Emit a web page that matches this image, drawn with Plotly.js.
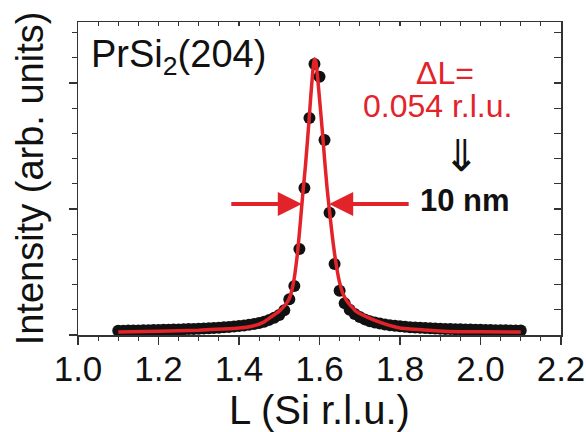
<!DOCTYPE html>
<html>
<head>
<meta charset="utf-8">
<script src="https://cdn.plot.ly/plotly-3.0.1.min.js"></script>
<style>html,body{margin:0;padding:0;background:#fff;}#chart{width:586px;height:432px;}</style>
</head>
<body>
<div id="chart"></div>
<script>
// Measured points (L in Si r.l.u., intensity in arb. units)
var dataL = [1.1,1.1125,1.125,1.1375,1.15,1.1625,1.175,1.1875,1.2,1.2125,1.225,1.2375,1.25,1.2625,1.275,1.2875,1.3,1.3125,1.325,1.3375,1.35,1.3625,1.375,1.3875,1.4,1.4125,1.425,1.4375,1.45,1.4625,1.475,1.4875,1.5,1.5125,1.525,1.5375,1.55,1.5625,1.575,1.5875,1.6,1.6125,1.625,1.6375,1.65,1.6625,1.675,1.6875,1.7,1.7125,1.725,1.7375,1.75,1.7625,1.775,1.7875,1.8,1.8125,1.825,1.8375,1.85,1.8625,1.875,1.8875,1.9,1.9125,1.925,1.9375,1.95,1.9625,1.975,1.9875,2.0,2.0125,2.025,2.0375,2.05,2.0625,2.075,2.0875,2.1];
var dataI = [0.17,0.17,0.18,0.18,0.18,0.19,0.19,0.20,0.20,0.21,0.21,0.22,0.22,0.23,0.24,0.24,0.25,0.26,0.27,0.28,0.29,0.31,0.32,0.34,0.36,0.38,0.41,0.44,0.48,0.53,0.60,0.68,0.79,0.98,1.42,1.94,3.41,5.83,8.61,10.75,10.25,7.74,4.85,2.82,1.76,1.26,1.00,0.83,0.71,0.62,0.55,0.50,0.46,0.42,0.39,0.37,0.35,0.33,0.31,0.30,0.29,0.28,0.27,0.26,0.25,0.24,0.24,0.23,0.23,0.22,0.22,0.21,0.21,0.20,0.20,0.19,0.19,0.19,0.18,0.18,0.18];
// Fit curve
var fitL = [1.10,1.20,1.30,1.36,1.40,1.43,1.46,1.48,1.50,1.515,1.525,1.535,1.545,1.552,1.558,1.565,1.572,1.578,1.583,1.587,1.591,1.596,1.601,1.607,1.613,1.619,1.625,1.632,1.640,1.649,1.658,1.668,1.69,1.717,1.76,1.80,1.86,1.92,2.0,2.1];
var fitI = [0.12,0.15,0.19,0.24,0.28,0.34,0.50,0.72,0.95,1.20,1.45,2.05,3.2,4.4,5.5,6.7,8.1,9.4,10.4,10.95,10.85,10.1,9.2,8.1,6.9,5.8,4.9,3.9,2.95,2.15,1.65,1.35,0.95,0.72,0.45,0.28,0.20,0.14,0.13,0.12];

var xRange = [1.0, 2.2];
var yRange = [0, 12.42];
var RED = '#e3232a';
var FONT = 'Liberation Sans, Arial, Helvetica, sans-serif';

var traces = [
  {x: dataL, y: dataI, type: 'scatter', mode: 'markers',
   marker: {color: '#111111', size: 12, line: {width: 0}}, hoverinfo: 'skip', xaxis: 'x', yaxis: 'y'},
  {x: fitL, y: fitI, type: 'scatter', mode: 'lines',
   line: {color: RED, width: 3.5, shape: 'spline', smoothing: 0.5}, hoverinfo: 'skip', xaxis: 'x2', yaxis: 'y2'}
];

var axCol = '#333333';
var layout = {
  width: 586, height: 432,
  margin: {l: 78, r: 25, t: 22, b: 97},
  paper_bgcolor: '#ffffff', plot_bgcolor: '#ffffff',
  showlegend: false,
  font: {family: FONT, color: '#111111'},
  xaxis: {
    range: xRange, tick0: 1.0, dtick: 0.2, tickformat: '.1f',
    ticks: 'outside', ticklen: 8, tickwidth: 1.5, tickcolor: axCol,
    minor: {dtick: 0.05, ticks: 'outside', ticklen: 4, tickwidth: 1.2, tickcolor: axCol},
    showline: true, linecolor: axCol, linewidth: 1.5, showgrid: false, zeroline: false,
    tickfont: {size: 35, family: FONT, color: '#111111'},
    ticklabelstandoff: -6,
    title: {text: 'L (Si r.l.u.)', font: {size: 40, family: FONT, color: '#111111'}, standoff: 2}
  },
  yaxis: {
    range: yRange, tick0: 0, dtick: 5, showticklabels: false,
    ticks: 'outside', ticklen: 8, tickwidth: 1.5, tickcolor: axCol,
    minor: {dtick: 1, ticks: 'outside', ticklen: 5, tickwidth: 1.2, tickcolor: axCol},
    showline: true, linecolor: axCol, linewidth: 1.5, showgrid: false, zeroline: false,
    title: {text: 'Intensity (arb. units)', font: {size: 38, family: FONT, color: '#111111'}, standoff: 13}
  },
  xaxis2: {
    overlaying: 'x', side: 'top', anchor: 'y2', range: xRange, tick0: 1.0, dtick: 0.05,
    ticks: 'inside', ticklen: 4, tickwidth: 1.2, tickcolor: axCol, showticklabels: false,
    showline: true, linecolor: axCol, linewidth: 1.5, showgrid: false, zeroline: false
  },
  yaxis2: {
    overlaying: 'y', side: 'right', anchor: 'x2', range: yRange, tick0: 0, dtick: 1,
    ticks: 'inside', ticklen: 7, tickwidth: 1.2, tickcolor: axCol, showticklabels: false,
    showline: true, linecolor: axCol, linewidth: 1.5, showgrid: false, zeroline: false
  },
  annotations: [
    {xref: 'paper', yref: 'paper', x: 0.022, y: 0.887, xanchor: 'left', yanchor: 'middle',
     text: 'PrSi<sub>2</sub>(204)', showarrow: false, font: {size: 38, family: FONT, color: '#111111'}},
    {xref: 'paper', yref: 'paper', x: 0.759, y: 0.837, xanchor: 'center', yanchor: 'middle',
     text: '\u0394L=', showarrow: false, font: {size: 32, family: FONT, color: RED}},
    {xref: 'paper', yref: 'paper', x: 0.744, y: 0.732, xanchor: 'center', yanchor: 'middle',
     text: '0.054 r.l.u.', showarrow: false, font: {size: 32, family: FONT, color: RED}},
    {xref: 'paper', yref: 'paper', x: 0.793, y: 0.585, xanchor: 'center', yanchor: 'middle',
     text: '\u21D3', showarrow: false, font: {size: 44, family: 'Noto Sans CJK JP, DejaVu Sans, sans-serif', color: '#111111'}},
    {xref: 'paper', yref: 'paper', x: 0.802, y: 0.431, xanchor: 'center', yanchor: 'middle',
     text: '<b>10 nm</b>', showarrow: false, font: {size: 31, family: FONT, color: '#111111'}},
    {xref: 'x', yref: 'y', x: 1.556, y: 5.2, ax: -72, ay: 0, axref: 'pixel', ayref: 'pixel',
     text: '', showarrow: true, arrowhead: 2, arrowsize: 1.2, arrowwidth: 4, arrowcolor: RED, standoff: 0},
    {xref: 'x', yref: 'y', x: 1.624, y: 5.2, ax: 81, ay: 0, axref: 'pixel', ayref: 'pixel',
     text: '', showarrow: true, arrowhead: 2, arrowsize: 1.2, arrowwidth: 4, arrowcolor: RED, standoff: 0}
  ]
};

Plotly.newPlot('chart', traces, layout, {staticPlot: true, displayModeBar: false});
</script>
</body>
</html>
